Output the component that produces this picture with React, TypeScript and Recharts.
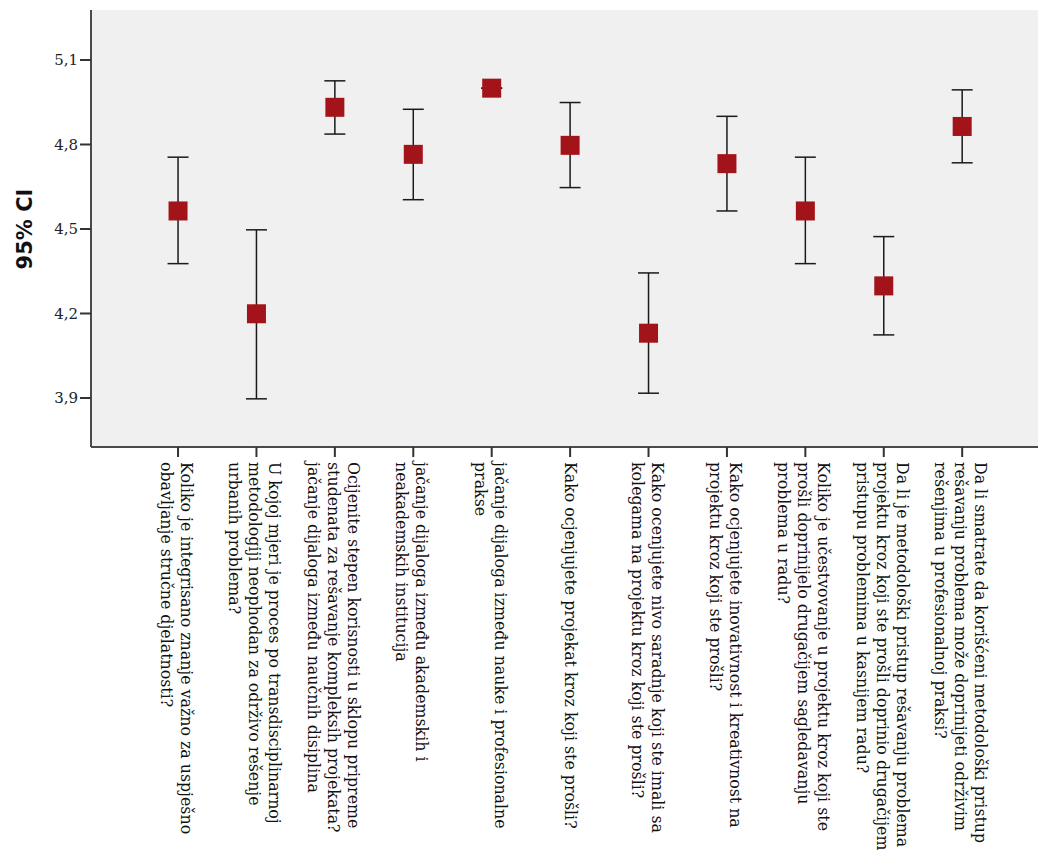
import React from 'react';
import { ScatterChart, Scatter, XAxis, YAxis, ErrorBar, CartesianGrid } from 'recharts';

// question labels, already split into the lines shown under each tick
const questions: string[][] = [
  ['Koliko je integrisano znanje važno za uspješno', 'obavljanje stručne djelatnosti?'],
  ['U kojoj mjeri je proces po transdisciplinarnoj', 'metodologiji neophodan za održivo rešenje', 'urbanih problema?'],
  ['Ocijenite stepen korisnosti u sklopu pripreme', 'studenata za rešavanje kompleksih projekata?', 'jačanje dijaloga između naučnih disiplina'],
  ['jačanje dijaloga između akademskih i', 'neakademskih institucija'],
  ['jačanje dijaloga između nauke i profesionalne', 'prakse'],
  ['Kako ocjenjujete projekat kroz koji ste prošli?'],
  ['Kako ocenjujete nivo saradnje koji ste imali sa', 'kolegama na projektu kroz koji ste prošli?'],
  ['Kako ocjenjujete inovativnost i kreativnost na', 'projektu kroz koji ste prošli?'],
  ['Koliko je učestvovanje u projektu kroz koji ste', 'prošli doprinijelo drugačijem sagledavanju', 'problema u radu?'],
  ['Da li je metodološki pristup rešavanju problema u', 'projektu kroz koji ste prošli doprinio drugačijem', 'pristupu problemima u kasnijem radu?'],
  ['Da li smatrate da korišćeni metodološki pristup', 'rešavanju problema može doprinijeti održivim', 'rešenjima u profesionalnoj praksi?'],
];

const means = [4.564, 4.199, 4.932, 4.765, 5.0, 4.797, 4.13, 4.732, 4.564, 4.298, 4.864];
const lowerCI = [4.377, 3.897, 4.837, 4.604, 5.0, 4.647, 3.917, 4.564, 4.377, 4.124, 4.735];
const upperCI = [4.755, 4.497, 5.026, 4.925, 5.0, 4.949, 4.344, 4.9, 4.755, 4.473, 4.994];

const yTicks = [3.9, 4.2, 4.5, 4.8, 5.1];
const xTicks = questions.map((_, i) => i);

const data = questions.map((_, i) => ({
  idx: i,
  mean: means[i],
  ci: [means[i] - lowerCI[i], upperCI[i] - means[i]],
}));

const QuestionTick = (props: any) => {
  const { x, y, payload } = props;
  const lines = questions[payload.value] ?? [];
  const n = lines.length;
  const lineGap = 20;
  return (
    <g transform={`translate(${x},${y})`}>
      <text transform="rotate(90)" fontFamily="DejaVu Serif" fontSize={15.8} fill="#111">
        {lines.map((line, k) => {
          const off = n > 1 ? ((n - 1) / 2 - k) * lineGap - 2 : 0;
          return (
            <tspan key={k} x={3} y={5 - off}>
              {line}
            </tspan>
          );
        })}
      </text>
    </g>
  );
};

const SquareDot = (props: any) => {
  const { cx, cy } = props;
  return <rect x={cx - 9.5} y={cy - 9.5} width={19} height={19} fill="#a3141a" />;
};

const NoDot = () => <g />;

export default function App() {
  return (
    <div
      style={{
        position: 'absolute',
        left: 0,
        top: 0,
        width: 1038,
        height: 851,
        overflow: 'hidden',
        background: '#fff',
      }}
    >
      <ScatterChart width={1050} height={851} margin={{ top: 10, right: 0, bottom: 0, left: 0 }}>
        <CartesianGrid fill="#f0f0f0" horizontal={false} vertical={false} />
        <XAxis
          type="number"
          dataKey="idx"
          domain={[-1.11, 11.12]}
          ticks={xTicks}
          interval={0}
          allowDataOverflow
          height={404}
          tickSize={10}
          tick={<QuestionTick />}
          axisLine={{ stroke: '#4a4a4a', strokeWidth: 2 }}
          tickLine={{ stroke: '#333', strokeWidth: 2 }}
        />
        <XAxis
          xAxisId="top"
          orientation="top"
          type="number"
          domain={[0, 1]}
          height={0}
          tick={false}
          tickLine={false}
          axisLine={{ stroke: '#888', strokeWidth: 2 }}
        />
        <YAxis
          type="number"
          domain={[3.726, 5.2775]}
          ticks={yTicks}
          allowDataOverflow
          width={91}
          tickSize={11}
          tickMargin={2}
          tickFormatter={(v: number) => v.toFixed(1).replace('.', ',')}
          tick={{ fontFamily: 'DejaVu Serif', fontSize: 15, fill: '#222' }}
          axisLine={{ stroke: '#4a4a4a', strokeWidth: 2 }}
          tickLine={{ stroke: '#333', strokeWidth: 2 }}
          label={{
            content: () => (
              <text
                x={32}
                y={229}
                transform="rotate(-90, 32, 229)"
                textAnchor="middle"
                fontFamily="DejaVu Sans"
                fontWeight="bold"
                fontSize={21}
                fill="#111"
              >
                95% CI
              </text>
            ),
          }}
        />
        {/* whiskers first, squares drawn on top */}
        <Scatter data={data} dataKey="mean" shape={<NoDot />} isAnimationActive={false}>
          <ErrorBar dataKey="ci" direction="y" width={10.5} stroke="#1a1a1a" strokeWidth={1.5} isAnimationActive={false} />
        </Scatter>
        <Scatter data={data} dataKey="mean" shape={<SquareDot />} isAnimationActive={false} />
      </ScatterChart>
    </div>
  );
}
